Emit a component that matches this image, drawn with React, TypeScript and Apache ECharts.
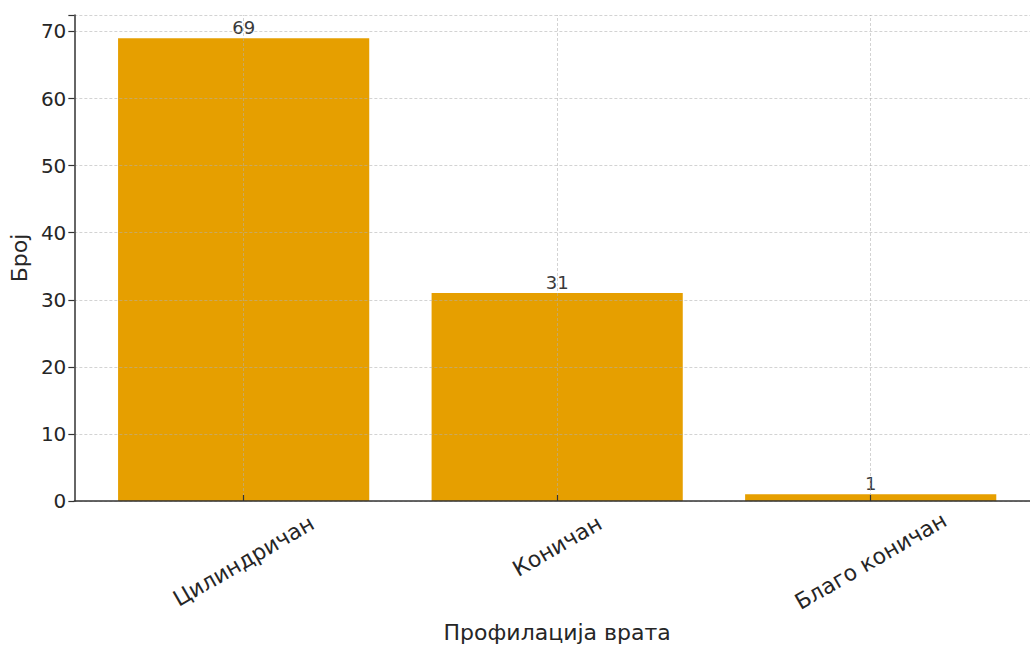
import React, { useEffect, useRef } from "react";
import * as echarts from "echarts";

const categories = ["Цилиндричан", "Коничан", "Благо коничан"];
const counts = [69, 31, 1];
const yTicks = [0, 10, 20, 30, 40, 50, 60, 70];
const xTitle = "Профилација врата";
const yTitle = "Број";

const X_MIN = -0.54;
const X_MAX = 2.54;
const Y_MAX = 72.45;
const GRID_LEFT = 73;
const GRID_TOP = 15;
const GRID_W = 967;
const GRID_H = 488;

export default function App() {
  const ref = useRef<HTMLDivElement>(null);
  useEffect(() => {
    if (!ref.current) return;
    const chart = echarts.init(ref.current, undefined, { renderer: "svg" });
    const font = "DejaVu Sans";
    const gridLine = { color: "rgba(175,175,175,0.55)", width: 1, type: [3, 2] as any };
    const bandPx = GRID_W / (X_MAX - X_MIN);
    const labelBase = { fontSize: 22, color: "#262626", fontFamily: font };
    chart.setOption({
      animation: false,
      backgroundColor: "#ffffff",
      textStyle: { fontFamily: font },
      grid: { left: GRID_LEFT, top: GRID_TOP, width: GRID_W, height: GRID_H },
      xAxis: {
        type: "value",
        min: X_MIN,
        max: X_MAX,
        z: 10,
        name: xTitle,
        nameLocation: "middle",
        nameGap: 120,
        nameTextStyle: { fontSize: 22, color: "#262626", fontFamily: font, verticalAlign: "top" },
        axisLine: { show: true, onZero: false, lineStyle: { color: "#333", width: 1.5 } },
        axisTick: { show: true, inside: true, length: 6, customValues: categories.map((_, i) => i), lineStyle: { color: "#333", width: 1.2 } },
        axisLabel: {
          customValues: categories.map((_, i) => i),
          formatter: (v: number) => {
            const i = Math.round(v);
            const name = categories[i] ?? "";
            return i === 1 ? `{s|${name}}` : `{n|${name}}`;
          },
          rich: {
            n: { ...labelBase },
            s: { ...labelBase, padding: [0, 0, 26, 15] },
          },
          rotate: 30,
          align: "center",
          verticalAlign: "middle",
          margin: 60,
          ...labelBase,
        },
        splitLine: { show: false },
      },
      yAxis: {
        type: "value",
        min: 0,
        max: Y_MAX,
        interval: 10,
        z: 10,
        name: yTitle,
        nameLocation: "middle",
        nameGap: 40,
        nameRotate: 90,
        nameTextStyle: { fontSize: 22, color: "#262626", fontFamily: font },
        axisLine: { show: true, onZero: false, lineStyle: { color: "#333", width: 1.5 } },
        axisTick: { show: true, length: 6, lineStyle: { color: "#333", width: 1.2 } },
        axisLabel: {
          formatter: (v: number) => (yTicks.includes(v) ? String(v) : ""),
          fontSize: 20,
          color: "#262626",
          margin: 8,
          fontFamily: font,
        },
        splitLine: { show: true, lineStyle: gridLine },
      },
      series: [
        {
          type: "bar",
          data: counts.map((c, i) => [i, c]),
          barWidth: bandPx * 0.8,
          itemStyle: { color: "#E69F00" },
          label: {
            show: true,
            position: "top",
            distance: 2,
            formatter: (p: any) => String(p.value[1]),
            fontSize: 18,
            color: "#3a3a3a",
            fontFamily: font,
          },
          markLine: {
            silent: true,
            symbol: "none",
            label: { show: false },
            lineStyle: gridLine,
            data: categories.map((_, i) => ({ xAxis: i })),
          },
        },
      ],
    });
    return () => chart.dispose();
  }, []);
  return (
    <div style={{ position: "fixed", left: 0, top: 0, width: 1030, height: 648, overflow: "hidden", background: "#fff" }}>
      <div ref={ref} style={{ width: GRID_LEFT + GRID_W, height: 648 }} />
    </div>
  );
}
